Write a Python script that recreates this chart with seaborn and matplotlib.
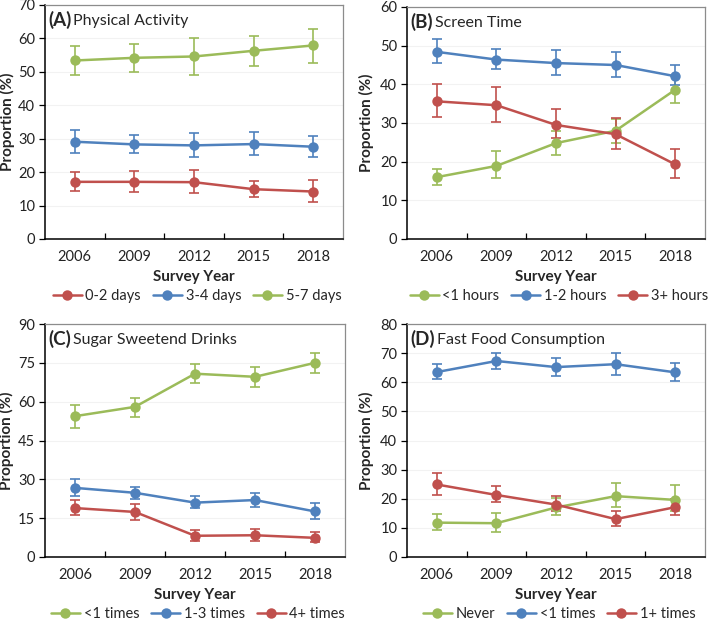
import numpy as np
import pandas as pd
import matplotlib.pyplot as plt
import seaborn as sns

years = ['2006', '2009', '2012', '2015', '2018']

RED = '#C0504D'
BLUE = '#4F81BD'
GREEN = '#9BBB59'

# (A) Physical Activity
pa_labels = ['0-2 days', '3-4 days', '5-7 days']
pa_mean = [[17.1, 17.1, 17.0, 14.9, 14.2],
           [29.1, 28.3, 28.0, 28.4, 27.6],
           [53.4, 54.2, 54.6, 56.3, 57.9]]
pa_low = [[14.4, 14.2, 13.9, 12.7, 11.2],
          [25.6, 25.6, 24.4, 25.1, 24.6],
          [49.1, 50.1, 49.1, 51.7, 52.7]]
pa_high = [[20.1, 20.3, 20.6, 17.3, 17.7],
           [32.6, 31.1, 31.8, 31.9, 30.8],
           [57.7, 58.3, 60.0, 60.7, 62.8]]

# (B) Screen Time
st_labels = ['<1 hours', '1-2 hours', '3+ hours']
st_mean = [[16.0, 18.9, 24.8, 28.0, 38.6],
           [48.4, 46.4, 45.5, 45.0, 42.1],
           [35.6, 34.6, 29.5, 27.1, 19.3]]
st_low = [[14.0, 15.7, 21.7, 24.9, 35.2],
          [45.5, 44.0, 42.5, 41.9, 39.7],
          [31.5, 30.3, 26.0, 23.3, 15.9]]
st_high = [[18.2, 22.7, 28.0, 31.0, 42.1],
           [51.6, 49.1, 48.8, 48.3, 44.9],
           [40.0, 39.3, 33.6, 31.3, 23.3]]

# (C) Sugar Sweetend Drinks
ssd_labels = ['<1 times', '1-3 times', '4+ times']
ssd_mean = [[54.4, 58.0, 70.8, 69.6, 75.0],
            [26.7, 24.8, 21.0, 22.0, 17.6],
            [18.9, 17.4, 8.2, 8.4, 7.4]]
ssd_low = [[50.0, 54.2, 67.2, 65.6, 71.2],
           [23.4, 22.4, 18.8, 19.3, 14.7],
           [16.3, 14.2, 6.3, 6.3, 5.7]]
ssd_high = [[58.9, 61.6, 74.4, 73.5, 78.7],
            [30.3, 27.2, 23.7, 24.9, 20.8],
            [21.9, 20.6, 10.5, 10.8, 9.5]]

# (D) Fast Food Consumption
ff_labels = ['Never', '<1 times', '1+ times']
ff_mean = [[11.8, 11.6, 17.0, 20.9, 19.6],
           [63.5, 67.3, 65.2, 66.2, 63.4],
           [24.9, 21.3, 18.0, 13.0, 17.1]]
ff_low = [[9.4, 8.7, 14.3, 17.2, 15.7],
          [61.0, 64.4, 62.1, 62.5, 60.3],
          [21.3, 18.8, 15.8, 10.5, 14.4]]
ff_high = [[14.6, 15.0, 20.4, 25.4, 24.7],
           [66.3, 70.1, 68.4, 70.0, 66.7],
           [28.8, 24.4, 20.8, 15.9, 19.8]]

panels = [
    ('(A)', 'Physical Activity', pa_labels, [RED, BLUE, GREEN], pa_mean, pa_low, pa_high, 70, 10),
    ('(B)', 'Screen Time', st_labels, [GREEN, BLUE, RED], st_mean, st_low, st_high, 60, 10),
    ('(C)', 'Sugar Sweetend Drinks', ssd_labels, [GREEN, BLUE, RED], ssd_mean, ssd_low, ssd_high, 90, 15),
    ('(D)', 'Fast Food Consumption', ff_labels, [GREEN, BLUE, RED], ff_mean, ff_low, ff_high, 80, 10),
]

# axes boxes in pixels: left, top, right, bottom, ylabel x (axes fraction)
boxes = [(45, 5, 343, 239, -0.102), (407, 7, 705, 239, -0.112),
         (45, 324, 345, 557, -0.102), (407, 324, 705, 557, -0.112)]

sns.set_theme(style='white')
plt.rcParams['font.family'] = ['Lato', 'DejaVu Sans']

W, H = 709, 620
fig = plt.figure(figsize=(W / 100, H / 100), dpi=100)

for (tag, title, labels, colors, mean, low, high, ymax, ystep), (l, t, r, b, ylx) in zip(panels, boxes):
    ax = fig.add_axes([l / W, 1 - b / H, (r - l) / W, (b - t) / H])

    rows = []
    for lab, m in zip(labels, mean):
        for i, v in enumerate(m):
            rows.append({'x': i, 'value': v, 'group': lab})
    df = pd.DataFrame(rows)
    pal = dict(zip(labels, colors))

    for lab, m, lo, hi in zip(labels, mean, low, high):
        m = np.array(m)
        err = [m - np.array(lo), np.array(hi) - m]
        ax.errorbar(np.arange(len(m)), m, yerr=err, fmt='none', ecolor=pal[lab],
                    elinewidth=1.2, capsize=3.5, capthick=1.2, zorder=2)

    sns.lineplot(data=df, x='x', y='value', hue='group', hue_order=labels, palette=pal,
                 marker='o', markersize=7.5, markeredgewidth=0, linewidth=1.8, ax=ax, zorder=3)

    ax.set_xlim(-0.5, 4.5)
    ax.set_ylim(0, ymax)
    ax.set_yticks(np.arange(0, ymax + 1, ystep))
    ax.set_xticks(range(5))
    ax.set_xticklabels(years)
    ax.set_xticks([0.5, 1.5, 2.5, 3.5], minor=True)
    ax.tick_params(axis='x', which='major', length=0, labelsize=10.5, pad=8, colors='#222222')
    ax.tick_params(axis='x', which='minor', direction='in', length=4, width=0.9, color='black', bottom=True)
    ax.tick_params(axis='y', length=4, width=0.9, left=True, labelsize=10.5, colors='#222222', pad=3)
    ax.tick_params(axis='y', color='black')
    ax.grid(axis='y', color='#F2F2F2', linewidth=0.8)
    ax.set_axisbelow(True)

    for side in ['top', 'right']:
        ax.spines[side].set_color('#8C8C8C')
        ax.spines[side].set_linewidth(0.9)
    for side in ['left', 'bottom']:
        ax.spines[side].set_color('black')
        ax.spines[side].set_linewidth(1.1)

    ax.set_xlabel('Survey Year', fontsize=11, fontweight='bold', labelpad=4)
    ax.set_ylabel('Proportion (%)', fontsize=11, fontweight='bold')
    ax.yaxis.set_label_coords(ylx, 0.5)

    tt = ax.text(0.012, 0.975, tag, transform=ax.transAxes, fontsize=13.5,
                 fontweight='bold', va='top', ha='left')
    ax.annotate(title, xy=(1, 0.45), xycoords=tt, va='center', ha='left',
                fontsize=11.5, xytext=(1, 0), textcoords='offset points')

    handles, labs = ax.get_legend_handles_labels()
    ax.legend(handles, labs, loc='upper center', bbox_to_anchor=(0.51, -0.203), ncol=3,
              frameon=False, fontsize=10.5, handlelength=2.0, columnspacing=0.8,
              handletextpad=0.25, borderaxespad=0, borderpad=0.2)

fig.savefig('out.png', dpi=100)
